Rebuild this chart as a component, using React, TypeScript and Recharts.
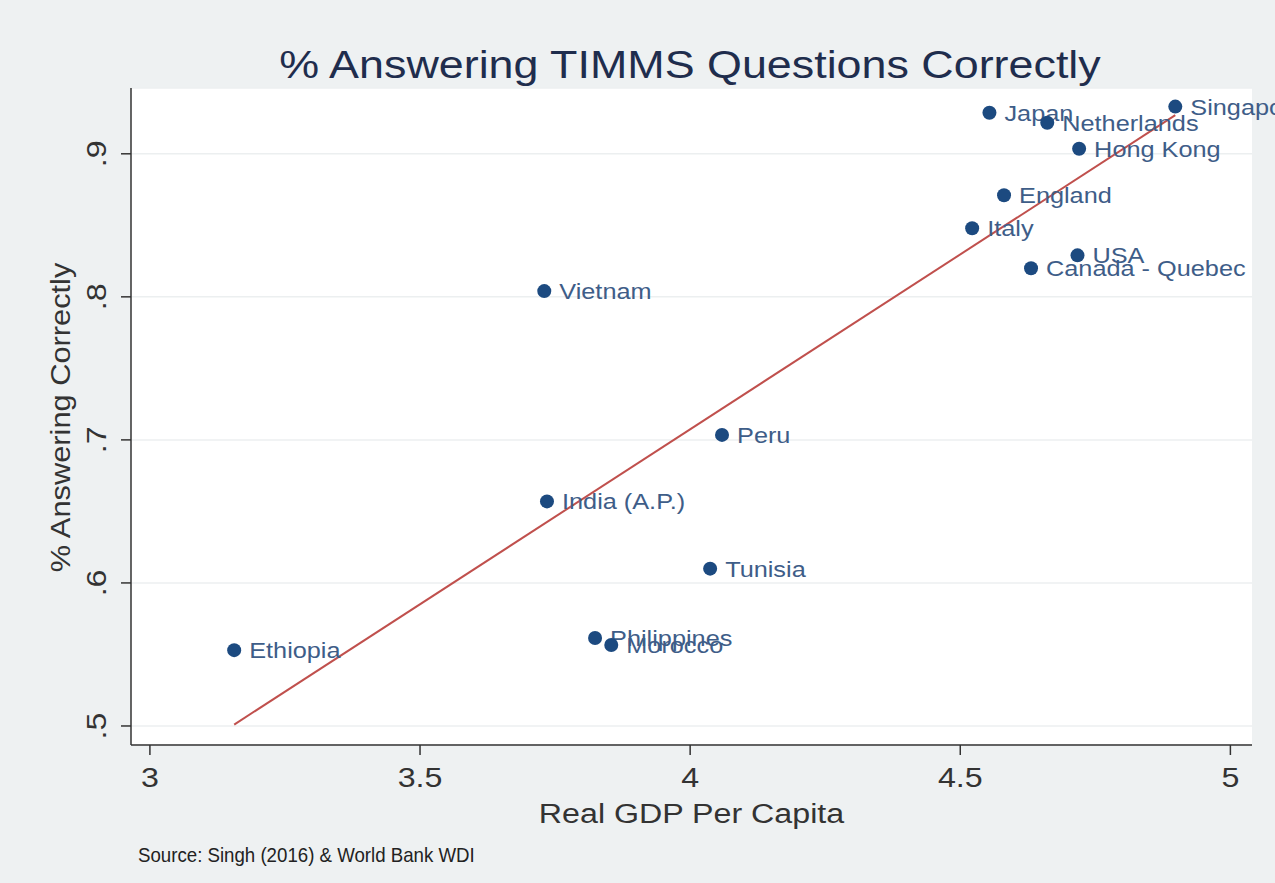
import React from 'react';
import { ScatterChart, Scatter, XAxis, YAxis, CartesianGrid, Label } from 'recharts';

const countries = ['Japan', 'Netherlands', 'Singapore', 'Hong Kong', 'England', 'Italy', 'USA', 'Canada - Quebec', 'Vietnam', 'Peru', 'India (A.P.)', 'Tunisia', 'Philippines', 'Morocco', 'Ethiopia'];
const gdp = [4.554, 4.661, 4.898, 4.720, 4.581, 4.522, 4.717, 4.631, 3.730, 4.059, 3.735, 4.037, 3.824, 3.854, 3.156];
const correct = [0.9287, 0.9217, 0.933, 0.9035, 0.871, 0.848, 0.829, 0.820, 0.804, 0.7035, 0.657, 0.610, 0.5615, 0.5566, 0.553];

const fitX = [3.156, 4.898];
const fitY = [0.501, 0.927];

const xTicks = [3, 3.5, 4, 4.5, 5];
const xTickLabels = ['3', '3.5', '4', '4.5', '5'];
const yTicks = [0.5, 0.6, 0.7, 0.8, 0.9];
const yTickLabels = ['.5', '.6', '.7', '.8', '.9'];

const points = countries.map((name, i) => ({ name, x: gdp[i], y: correct[i] }));
const fitData = fitX.map((x, i) => ({ x, y: fitY[i] }));

const FONT = '"Liberation Sans", Arial, Helvetica, sans-serif';
const SX = 1.15;

const Dot = (props: any) => {
  const { cx, cy, payload } = props;
  return (
    <g>
      <circle cx={cx} cy={cy} r={7} fill="#1c4a80" />
      <text transform={`translate(${cx + 15} ${cy + 8}) scale(${SX} 1)`} fontFamily={FONT} fontSize={22} fill="#3e5d88">
        {payload.name}
      </text>
    </g>
  );
};
const NoDot = () => <g />;

const XTick = (props: any) => {
  const { x, y, payload } = props;
  const idx = xTicks.indexOf(payload.value);
  return (
    <text transform={`translate(${x} ${y + 30}) scale(${SX} 1)`} textAnchor="middle" fontFamily={FONT} fontSize={28} fill="#333">
      {idx >= 0 ? xTickLabels[idx] : String(payload.value)}
    </text>
  );
};

const YTick = (props: any) => {
  const { y, payload } = props;
  const idx = yTicks.indexOf(payload.value);
  return (
    <text transform={`translate(106 ${y}) rotate(-90) scale(${SX} 1)`} textAnchor="middle" fontFamily={FONT} fontSize={28} fill="#333">
      {idx >= 0 ? yTickLabels[idx] : String(payload.value)}
    </text>
  );
};

const XLabel = (props: any) => {
  const vb = props.viewBox || { x: 131, y: 745, width: 1121 };
  return (
    <text transform={`translate(${vb.x + vb.width / 2} 823) scale(${SX} 1)`} textAnchor="middle" fontFamily={FONT} fontSize={28} fill="#333">
      Real GDP Per Capita
    </text>
  );
};

const YLabel = (props: any) => {
  const vb = props.viewBox || { y: 88, height: 657 };
  return (
    <text transform={`translate(70 ${vb.y + vb.height / 2 + 1}) rotate(-90) scale(1.1 1)`} textAnchor="middle" fontFamily={FONT} fontSize={28} fill="#333">
      % Answering Correctly
    </text>
  );
};

export default function App() {
  return (
    <div style={{ position: 'absolute', left: 0, top: 0, width: 1275, height: 883, background: '#eef1f2', overflow: 'hidden' }}>
      <div style={{ position: 'absolute', left: 131, top: 88, width: 1121, height: 657, background: '#ffffff' }} />
      <svg width={1275} height={883} style={{ position: 'absolute', left: 0, top: 0 }}>
        <text transform={`translate(690 78) scale(${SX} 1)`} textAnchor="middle" fontFamily={FONT} fontSize={39} fill="#1f2d4d">
          % Answering TIMMS Questions Correctly
        </text>
        <text transform="translate(138 862) scale(1.02 1.1)" fontFamily={FONT} fontSize={18.3} fill="#222">
          Source: Singh (2016) &amp; World Bank WDI
        </text>
      </svg>
      <div style={{ position: 'absolute', left: 0, top: 0 }}>
        <ScatterChart width={1275} height={883} margin={{ top: 88, right: 23, bottom: 0, left: 0 }} style={{ overflow: 'visible' }}>
          <CartesianGrid vertical={false} stroke="#eceff0" strokeWidth={1.5} />
          <XAxis
            type="number"
            dataKey="x"
            domain={[2.965, 5.04]}
            ticks={xTicks}
            height={138}
            tickSize={10}
            tickMargin={2}
            stroke="#333"
            strokeWidth={1.5}
            tick={<XTick />}
          >
            <Label content={<XLabel />} />
          </XAxis>
          <YAxis
            type="number"
            dataKey="y"
            domain={[0.4867, 0.946]}
            ticks={yTicks}
            width={131}
            tickSize={10}
            tickMargin={2}
            stroke="#333"
            strokeWidth={1.5}
            tick={<YTick />}
          >
            <Label content={<YLabel />} />
          </YAxis>
          <Scatter data={fitData} line={{ stroke: '#c0504d', strokeWidth: 2 }} shape={<NoDot />} isAnimationActive={false} />
          <Scatter data={points} shape={<Dot />} isAnimationActive={false} />
        </ScatterChart>
      </div>
    </div>
  );
}
